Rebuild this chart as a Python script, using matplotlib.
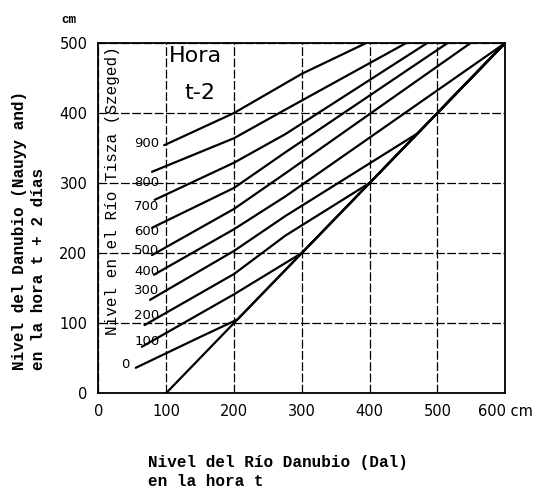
import matplotlib
matplotlib.use("Agg")
import matplotlib.pyplot as plt

# Danube level at hour t (x) vs level 2 days later (y), one curve per Tisza level at Szeged
tisza_levels = [0, 100, 200, 300, 400, 500, 600, 700, 800, 900]

c0_x = [55, 150, 205, 600]
c0_y = [36, 80, 105, 500]
c100_x = [64, 200, 300, 600]
c100_y = [66, 141, 200, 500]
c200_x = [68, 200, 276, 400, 600]
c200_y = [97, 170, 225, 300, 500]
c300_x = [76, 200, 276, 471, 600]
c300_y = [133, 203, 253, 371, 500]
c400_x = [82, 200, 276, 600]
c400_y = [169, 234, 281, 500]
c500_x = [79, 200, 276, 549]
c500_y = [197, 263, 314, 500]
c600_x = [79, 200, 276, 515]
c600_y = [236, 293, 344, 500]
c700_x = [83, 200, 276, 485]
c700_y = [276, 329, 370, 500]
c800_x = [79, 200, 276, 454]
c800_y = [316, 364, 405, 500]
c900_x = [97, 200, 300, 395]
c900_y = [354, 400, 456, 500]

# lower limit: no change with the Tisza
limit_x = [100, 600]
limit_y = [0, 500]

# vertical position of each curve label
label_y = [40, 74, 111, 146, 174, 203, 231, 266, 301, 357]

x_ticks = [0, 100, 200, 300, 400, 500, 600]
x_tick_labels = ["0", "100", "200", "300", "400", "500", "600 cm"]
y_ticks = [0, 100, 200, 300, 400, 500]

curves_x = [c0_x, c100_x, c200_x, c300_x, c400_x, c500_x, c600_x, c700_x, c800_x, c900_x]
curves_y = [c0_y, c100_y, c200_y, c300_y, c400_y, c500_y, c600_y, c700_y, c800_y, c900_y]

fig = plt.figure(figsize=(5.38, 5.0), dpi=100)
ax = fig.add_axes([0.183, 0.214, 0.756, 0.70])

for xs, ys in zip(curves_x, curves_y):
    ax.plot(xs, ys, color="black", linewidth=1.6, solid_capstyle="round")
ax.plot(limit_x, limit_y, color="black", linewidth=1.6)

for lvl, ly in zip(tisza_levels, label_y):
    lx = 46 if lvl == 0 else 90
    ax.text(lx, ly, str(lvl), ha="right", va="center", fontsize=9.5, color="black")

ax.set_xlim(0, 600)
ax.set_ylim(0, 500)
ax.set_xticks(x_ticks)
ax.set_xticklabels(x_tick_labels)
ax.set_yticks(y_ticks)
ax.tick_params(length=0, labelsize=10.5, pad=8)
ax.grid(True, color="black", linestyle=(0, (7, 2)), linewidth=0.9)
for sp in ax.spines.values():
    sp.set_linewidth(1.3)

ax.text(143, 481, "Hora", ha="center", va="center", fontsize=16)
ax.text(150, 428, "t-2", ha="center", va="center", fontsize=16)
ax.text(20, 496, "Nivel en el Río Tisza (Szeged)", rotation=90, rotation_mode="anchor",
        ha="right", va="center", fontsize=11.5, family="Liberation Mono")

mono = dict(family="Liberation Mono", weight="bold", fontsize=11.5)
fig.text(0.128, 0.96, "cm", ha="center", va="center", **dict(mono, fontsize=9))
fig.text(0.037, 0.26, "Nivel del Danubio (Nauyy and)", rotation=90, rotation_mode="anchor",
         ha="left", va="center", **mono)
fig.text(0.071, 0.26, "en la hora t + 2 días", rotation=90, rotation_mode="anchor",
         ha="left", va="center", **mono)
fig.text(0.275, 0.074, "Nivel del Río Danubio (Dal)", ha="left", va="center", **mono)
fig.text(0.275, 0.036, "en la hora t", ha="left", va="center", **mono)

plt.savefig("out.png", dpi=100)
plt.close()
